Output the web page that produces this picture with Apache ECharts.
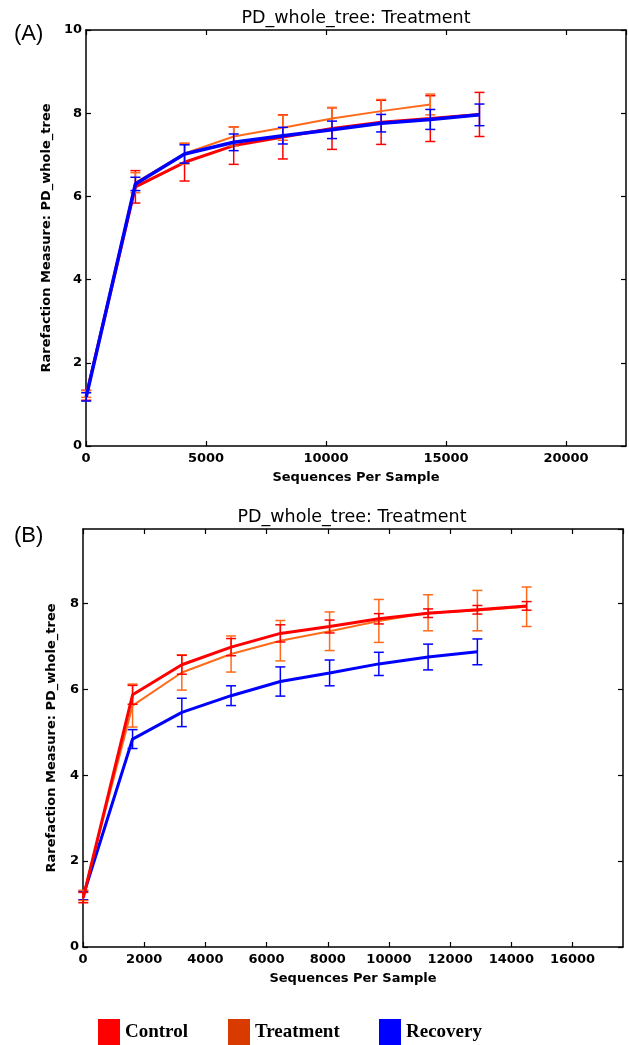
<!DOCTYPE html>
<html>
<head>
<meta charset="utf-8">
<script src="https://cdn.jsdelivr.net/npm/echarts@6/dist/echarts.min.js"></script>
<style>
  html, body { margin: 0; padding: 0; background: #fff; }
  #chart { width: 629px; height: 1045px; }
</style>
</head>
<body>
<div id="chart"></div>
<script>
// (A) sequencing depths and mean PD values per group
const depthA = [10, 2058, 4106, 6154, 8202, 10250, 12298, 14346, 16394];
const controlA = [1.22, 6.23, 6.82, 7.22, 7.43, 7.63, 7.78, 7.87, 7.97];
const controlErrA = [0.12, 0.39, 0.45, 0.45, 0.53, 0.5, 0.53, 0.55, 0.53];
const treatmentA = [1.25, 6.33, 7.03, 7.44, 7.65, 7.87, 8.05, 8.21];
const treatmentErrA = [0.08, 0.24, 0.25, 0.23, 0.3, 0.27, 0.28, 0.25];
const recoveryA = [1.18, 6.3, 7.02, 7.3, 7.46, 7.6, 7.76, 7.85, 7.96];
const recoveryErrA = [0.1, 0.16, 0.22, 0.2, 0.2, 0.21, 0.21, 0.24, 0.26];

// (B)
const depthB = [10, 1620, 3230, 4840, 6450, 8060, 9670, 11280, 12890, 14500];
const controlB = [1.15, 5.87, 6.57, 6.98, 7.3, 7.46, 7.64, 7.77, 7.85, 7.94];
const controlErrB = [0.12, 0.22, 0.22, 0.2, 0.2, 0.15, 0.12, 0.1, 0.1, 0.1];
const treatmentB = [1.2, 5.62, 6.39, 6.82, 7.13, 7.35, 7.59, 7.78, 7.83, 7.92];
const treatmentErrB = [0.12, 0.5, 0.41, 0.42, 0.47, 0.45, 0.5, 0.42, 0.47, 0.46];
const recoveryB = [1.2, 4.84, 5.46, 5.85, 6.18, 6.38, 6.59, 6.75, 6.87];
const recoveryErrB = [0.1, 0.22, 0.33, 0.23, 0.34, 0.3, 0.27, 0.3, 0.3];

const lineColors = { Control: '#ff0000', Treatment: '#ff6a1a', Recovery: '#0000ff' };
const legendColors = { Control: '#ff0000', Treatment: '#d93a00', Recovery: '#0000ff' };

const chart = echarts.init(document.getElementById('chart'), null, { renderer: 'canvas' });

const sans = 'DejaVu Sans';

function pairs(xs, ys) {
  return ys.map((y, i) => [xs[i], y]);
}
function errRows(xs, ys, es) {
  return ys.map((y, i) => [xs[i], y, es[i]]);
}

// vertical error bar with caps
function errorBar(color) {
  return function (params, api) {
    const x = api.value(0), y = api.value(1), e = api.value(2);
    const lo = api.coord([x, y - e]);
    const hi = api.coord([x, y + e]);
    const w = 5;
    const st = { stroke: color, lineWidth: 1.5 };
    return {
      type: 'group',
      children: [
        { type: 'line', shape: { x1: lo[0], y1: lo[1], x2: hi[0], y2: hi[1] }, style: st },
        { type: 'line', shape: { x1: lo[0] - w, y1: lo[1], x2: lo[0] + w, y2: lo[1] }, style: st },
        { type: 'line', shape: { x1: hi[0] - w, y1: hi[1], x2: hi[0] + w, y2: hi[1] }, style: st }
      ]
    };
  };
}

function lineSeries(name, data, ax, width, z) {
  return {
    name: name, type: 'line', data: data,
    xAxisIndex: ax, yAxisIndex: ax,
    symbol: 'none', z: z,
    lineStyle: { color: lineColors[name], width: width },
    itemStyle: { color: lineColors[name] }
  };
}
function errSeries(name, data, ax, z) {
  return {
    name: name, type: 'custom', data: data,
    xAxisIndex: ax, yAxisIndex: ax, z: z,
    encode: { x: 0, y: 1 },
    renderItem: errorBar(lineColors[name]),
    itemStyle: { color: lineColors[name] }
  };
}

const tickLabel = { color: '#000', fontFamily: sans, fontWeight: 'bold', fontSize: 13, formatter: v => String(v) };
const axLine = { show: true, onZero: false, lineStyle: { color: '#000', width: 1.5 } };
const axTick = { show: true, inside: true, length: 5, lineStyle: { color: '#000', width: 1.2 } };

function xAxes(grid, max, interval) {
  return [
    {
      type: 'value', gridIndex: grid, position: 'bottom', min: 0, max: max, interval: interval,
      name: 'Sequences Per Sample', nameLocation: 'middle', nameGap: 25,
      nameTextStyle: { color: '#000', fontFamily: sans, fontWeight: 'bold', fontSize: 13 },
      axisLine: axLine, axisTick: axTick, splitLine: { show: false },
      axisLabel: Object.assign({ margin: 6, showMaxLabel: false }, tickLabel)
    },
    {
      type: 'value', gridIndex: grid, position: 'top', min: 0, max: max, interval: interval,
      axisLine: axLine, axisTick: axTick, splitLine: { show: false }, axisLabel: { show: false }
    }
  ];
}
function yAxes(grid, max, interval, showMax, gap) {
  return [
    {
      type: 'value', gridIndex: grid, position: 'left', min: 0, max: max, interval: interval,
      name: 'Rarefaction Measure: PD_whole_tree', nameLocation: 'middle', nameGap: gap,
      nameTextStyle: { color: '#000', fontFamily: sans, fontWeight: 'bold', fontSize: 13 },
      axisLine: axLine, axisTick: axTick, splitLine: { show: false },
      axisLabel: Object.assign({ margin: 4, showMaxLabel: showMax }, tickLabel)
    },
    {
      type: 'value', gridIndex: grid, position: 'right', min: 0, max: max, interval: interval,
      axisLine: axLine, axisTick: axTick, splitLine: { show: false }, axisLabel: { show: false }
    }
  ];
}

const legendText = { color: '#000', fontFamily: 'Liberation Serif', fontWeight: 'bold', fontSize: 19 };
function legendFor(name, left) {
  return {
    left: left, top: 1019, padding: 0, icon: 'rect', itemWidth: 22, itemHeight: 26,
    textStyle: legendText,
    data: [{ name: name, itemStyle: { color: legendColors[name] } }]
  };
}

const titleStyle = { color: '#000', fontFamily: sans, fontWeight: 'normal', fontSize: 17.5 };
const panelStyle = { color: '#000', fontFamily: 'Liberation Sans', fontWeight: 'normal', fontSize: 22 };

const option = {
  animation: false,
  backgroundColor: '#fff',
  title: [
    { text: 'PD_whole_tree: Treatment', left: 356, top: 9, padding: 0, textAlign: 'center', textStyle: titleStyle },
    { text: 'PD_whole_tree: Treatment', left: 352, top: 508, padding: 0, textAlign: 'center', textStyle: titleStyle },
    { text: '(A)', left: 14, top: 23, padding: 0, textStyle: panelStyle },
    { text: '(B)', left: 14, top: 525, padding: 0, textStyle: panelStyle }
  ],
  legend: [legendFor('Control', 98), legendFor('Treatment', 228), legendFor('Recovery', 379)],
  grid: [
    { left: 86, top: 30, width: 540, height: 416 },
    { left: 83, top: 529, width: 540, height: 418 }
  ],
  xAxis: [].concat(xAxes(0, 22500, 5000), xAxes(1, 17650, 2000)),
  yAxis: [].concat(yAxes(0, 10, 2, true, 24), yAxes(1, 9.73, 2, false, 25)),
  series: [
    lineSeries('Control', pairs(depthA, controlA), 0, 3, 2),
    errSeries('Control', errRows(depthA, controlA, controlErrA), 0, 3),
    lineSeries('Treatment', pairs(depthA, treatmentA), 0, 2, 4),
    errSeries('Treatment', errRows(depthA, treatmentA, treatmentErrA), 0, 5),
    lineSeries('Recovery', pairs(depthA, recoveryA), 0, 3.5, 6),
    errSeries('Recovery', errRows(depthA, recoveryA, recoveryErrA), 0, 7),

    lineSeries('Recovery', pairs(depthB, recoveryB), 2, 3, 2),
    errSeries('Recovery', errRows(depthB, recoveryB, recoveryErrB), 2, 3),
    lineSeries('Treatment', pairs(depthB, treatmentB), 2, 2, 4),
    errSeries('Treatment', errRows(depthB, treatmentB, treatmentErrB), 2, 5),
    lineSeries('Control', pairs(depthB, controlB), 2, 3, 6),
    errSeries('Control', errRows(depthB, controlB, controlErrB), 2, 7)
  ]
};

chart.setOption(option);
</script>
</body>
</html>
